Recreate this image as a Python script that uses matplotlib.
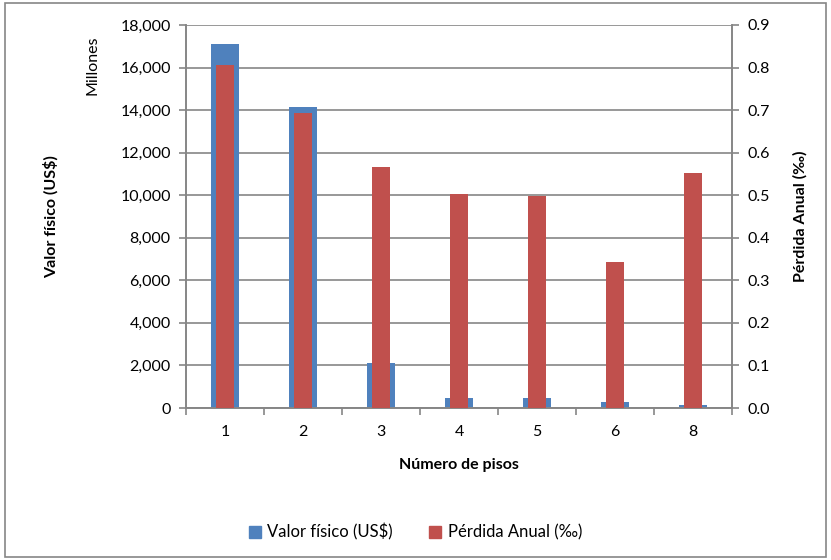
import matplotlib.pyplot as plt
import numpy as np
from matplotlib.patches import Rectangle, Patch

plt.rcParams['font.family'] = ['Lato', 'DejaVu Sans']

# Datos
pisos = ['1', '2', '3', '4', '5', '6', '8']
valor_fisico = [17100, 14150, 2130, 470, 460, 270, 120]   # millones US$
perdida_anual = [0.805, 0.694, 0.566, 0.503, 0.498, 0.343, 0.552]  # ‰

azul = '#4F81BD'
rojo = '#C0504D'
gris = '#868686'

fig = plt.figure(figsize=(8.31, 5.6), dpi=100)
fig.patches.append(Rectangle((0.006, 0.005), 0.988, 0.99, transform=fig.transFigure,
                             fill=False, edgecolor=gris, linewidth=1.2))

ax = fig.add_axes([186 / 831, 1 - 408 / 560, (732 - 186) / 831, (408 - 25) / 560])
ax2 = ax.twinx()

x = np.arange(len(pisos))
ax.bar(x, valor_fisico, width=0.36, color=azul, zorder=2)
ax2.bar(x, perdida_anual, width=0.23, color=rojo, zorder=3)

ax.set_ylim(0, 18000)
ax.set_yticks(np.arange(0, 18001, 2000))
ax.set_yticklabels([f'{v:,}' for v in range(0, 18001, 2000)])
ax2.set_ylim(0, 0.9)
ax2.set_yticks(np.arange(0, 0.91, 0.1))
ax2.set_yticklabels([f'{v:.1f}' for v in np.arange(0, 0.91, 0.1)])

ax.set_xlim(-0.5, len(pisos) - 0.5)
ax.set_xticks(x)
ax.set_xticklabels(pisos)
ax.set_xticks(np.arange(-0.5, len(pisos)), minor=True)
ax.tick_params(axis='x', which='major', length=0, pad=12)
ax.tick_params(axis='x', which='minor', length=5, color=gris, width=1.2)

ax.grid(axis='y', color=gris, linewidth=1.2, zorder=0)
ax.set_axisbelow(True)

for a in (ax, ax2):
    a.spines['top'].set_visible(False)
    for s in ('left', 'right', 'bottom'):
        a.spines[s].set_color(gris)
        a.spines[s].set_linewidth(1.2)
    a.tick_params(axis='y', length=5, color=gris, width=1.2, labelsize=11.5, pad=6)
    a.tick_params(axis='x', labelsize=11.5)

ax.set_xlabel('Número de pisos', fontsize=11.5, fontweight='bold', labelpad=14)
ax.set_ylabel('Valor físico (US$)', fontsize=11.5, fontweight='bold', labelpad=44)
ax2.set_ylabel('Pérdida Anual (‰)', fontsize=11.5, fontweight='bold', labelpad=17)

fig.text(92 / 831, 1 - 65 / 560, 'Millones', rotation=90, fontsize=11.5,
         ha='center', va='center')

handles = [Patch(color=azul), Patch(color=rojo)]
fig.legend(handles, ['Valor físico (US$)', 'Pérdida Anual (‰)'], loc='center',
           bbox_to_anchor=(0.5, 1 - 532 / 560), ncol=2, frameon=False,
           fontsize=12, handlelength=0.7, handleheight=0.7, columnspacing=2.2,
           handletextpad=0.4)

fig.savefig('out.png', dpi=100)
